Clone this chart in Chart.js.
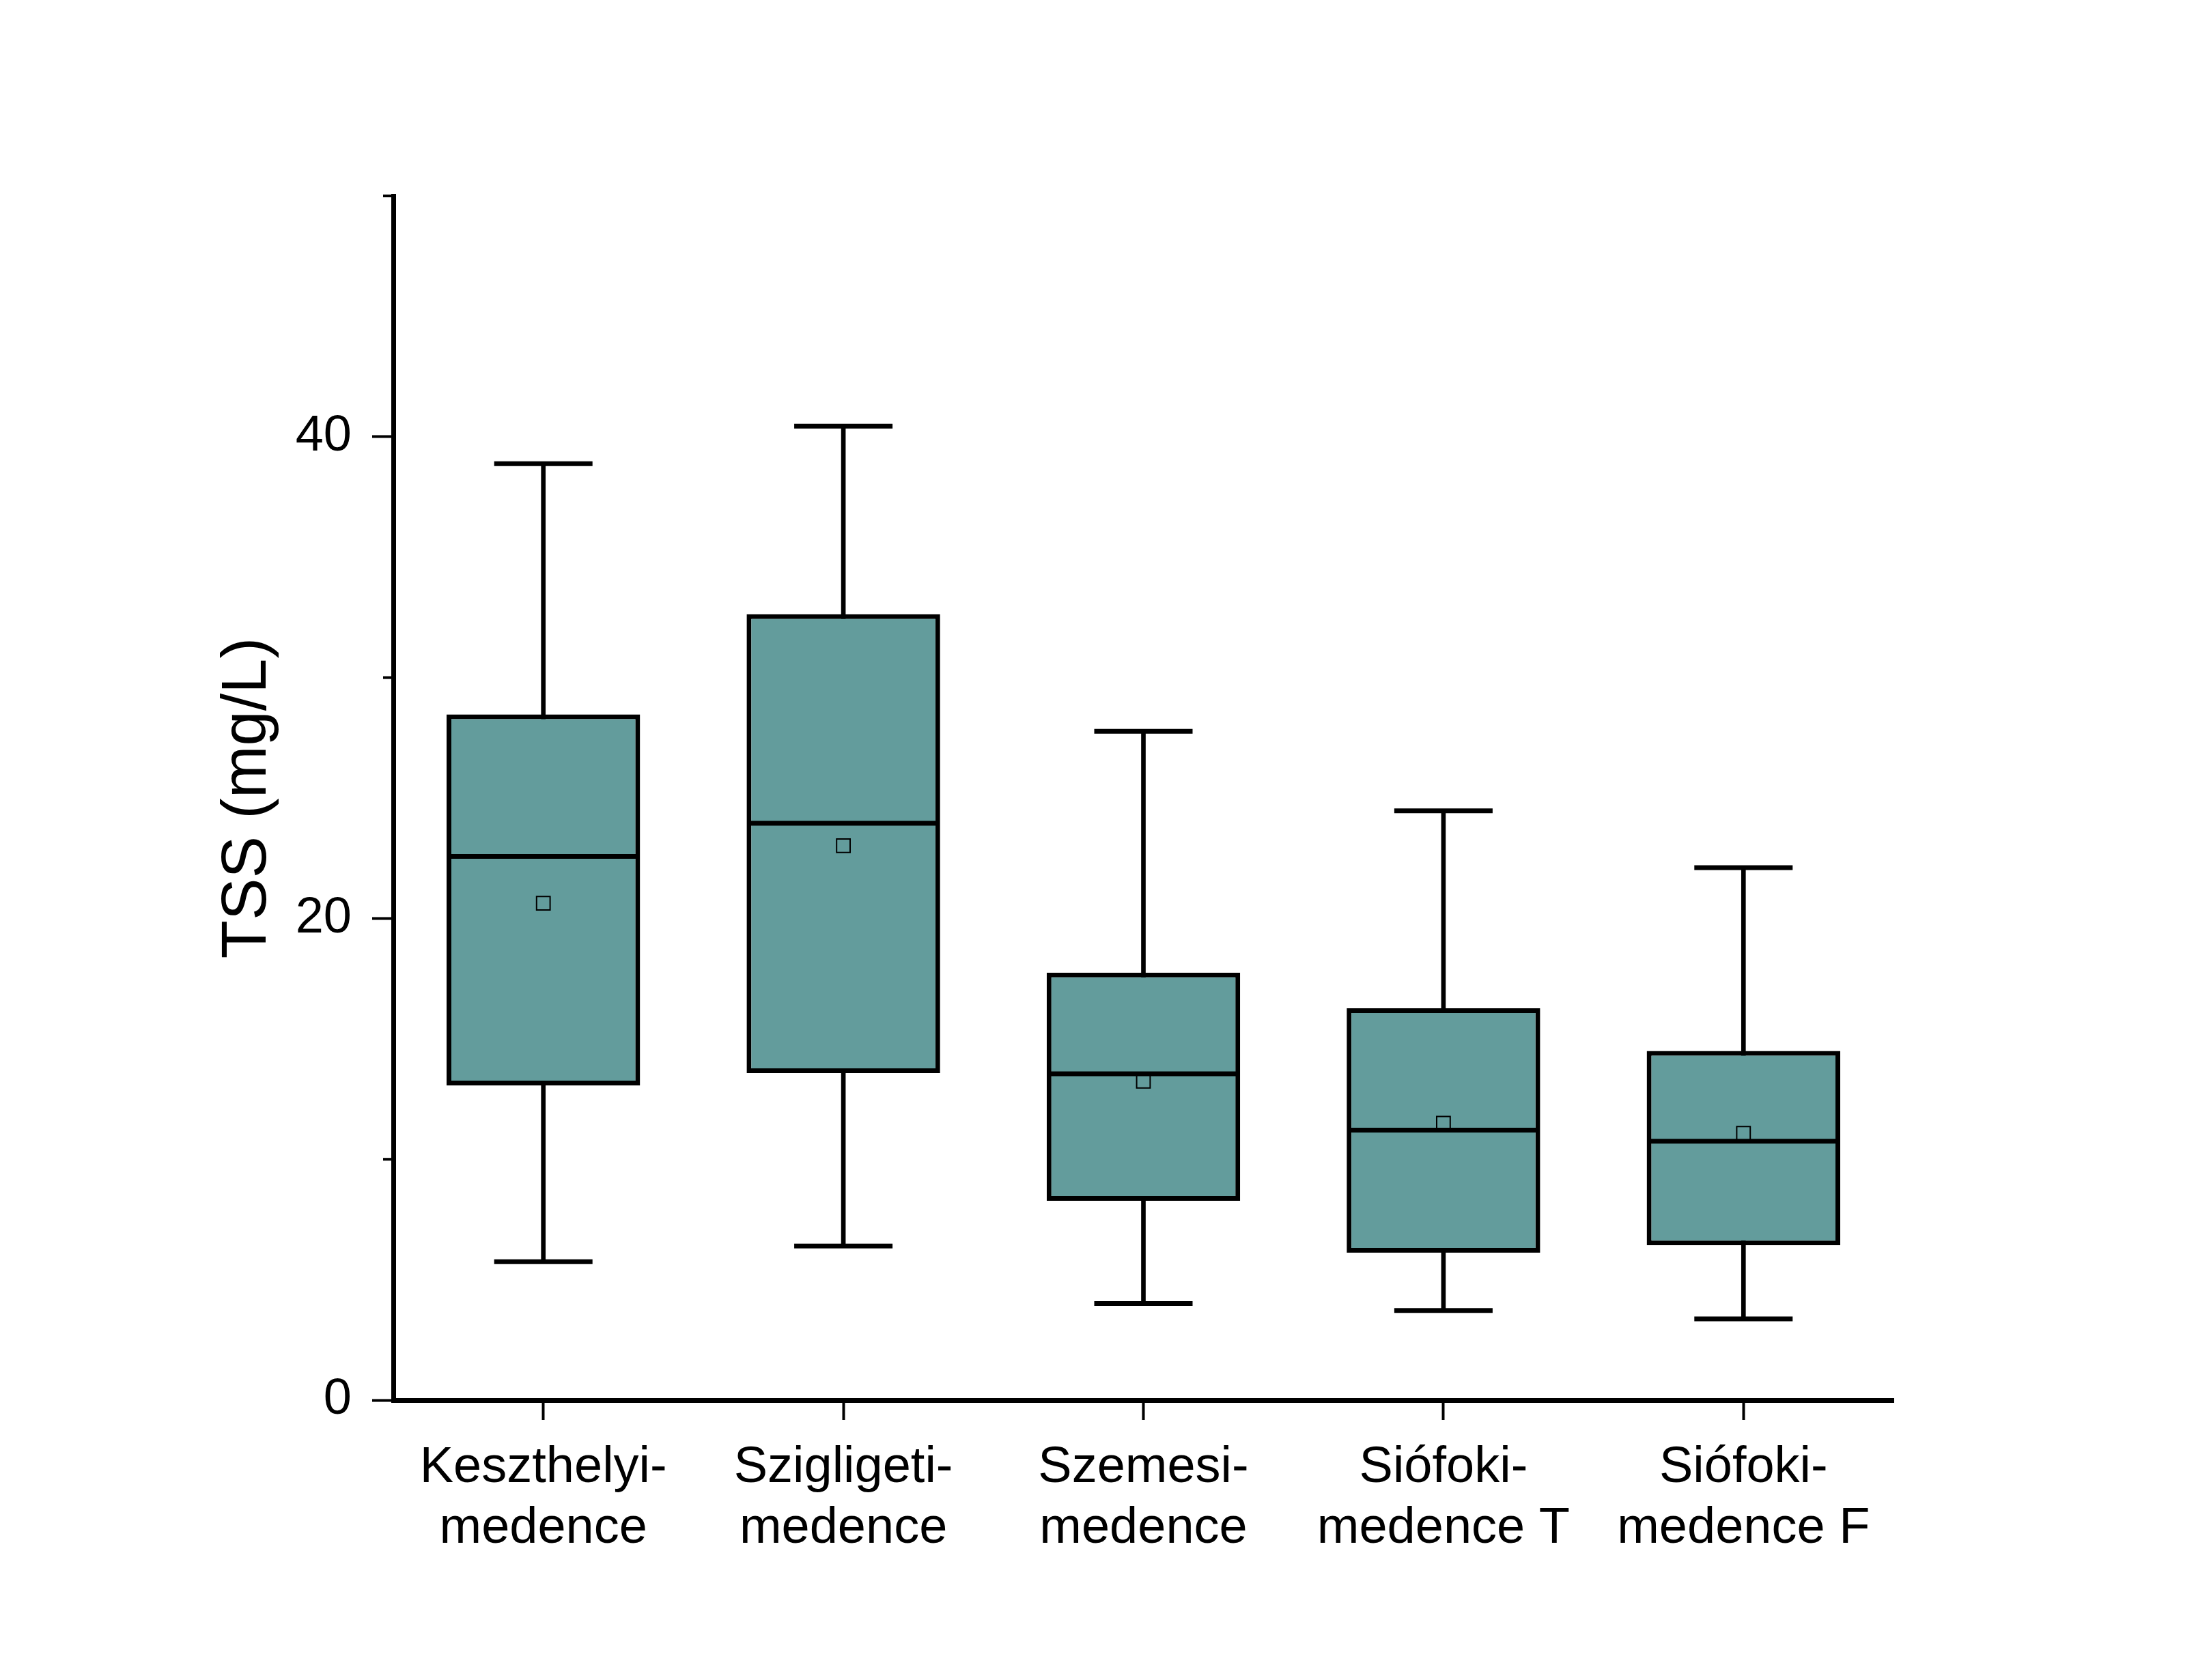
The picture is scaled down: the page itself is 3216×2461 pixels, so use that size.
<!DOCTYPE html>
<html>
<head>
<meta charset="utf-8">
<title>TSS boxplot</title>
<script src="https://cdn.jsdelivr.net/npm/chart.js@4/dist/chart.umd.min.js"></script>
<style>
  html, body { margin: 0; padding: 0; background: #fff; }
  canvas { display: block; }
</style>
</head>
<body>
<canvas id="tss-chart" width="3216" height="2461"></canvas>
<script>
// ---- data (mg/L) ----
const basins = [
  ['Keszthelyi-', 'medence'],
  ['Szigligeti-', 'medence'],
  ['Szemesi-', 'medence'],
  ['Siófoki-', 'medence T'],
  ['Siófoki-', 'medence F'],
];
const whiskerLow  = [5.75, 6.40, 4.01, 3.72, 3.37];
const q1          = [13.07, 13.58, 8.28, 6.12, 6.43];
const median      = [22.58, 23.95, 13.55, 11.21, 10.75];
const mean        = [20.63, 23.02, 13.24, 11.50, 11.08];
const q3          = [28.47, 32.63, 17.75, 16.27, 14.50];
const whiskerHigh = [38.88, 40.44, 27.77, 24.47, 22.11];

const yMajorTicks = [0, 20, 40];
const yMinorTicks = [10, 30, 50];

const BOX_FILL = '#639c9c';
const FONT = "'Liberation Sans', Arial, sans-serif";

Chart.defaults.color = '#000';
Chart.defaults.font.family = FONT;

// short minor ticks on the y axis (Chart.js only has one tick length per axis)
const minorTicksPlugin = {
  id: 'minorTicks',
  afterDraw(chart) {
    const y = chart.scales.y;
    const ctx = chart.ctx;
    ctx.save();
    ctx.strokeStyle = '#000';
    ctx.lineWidth = 4;
    yMinorTicks.forEach(v => {
      const py = y.getPixelForValue(v);
      ctx.beginPath();
      ctx.moveTo(y.right - 15, py);
      ctx.lineTo(y.right, py);
      ctx.stroke();
    });
    ctx.restore();
  }
};

const pointOnly = {
  type: 'line',
  showLine: false,
  pointBorderColor: '#000',
  pointBackgroundColor: 'rgba(0,0,0,0)',
  pointHoverRadius: 0,
};

new Chart(document.getElementById('tss-chart'), {
  type: 'bar',
  data: {
    labels: basins,
    datasets: [
      { // whisker stem, behind the box
        label: 'range',
        data: basins.map((_, i) => [whiskerLow[i], whiskerHigh[i]]),
        backgroundColor: '#000',
        barThickness: 6,
        grouped: false,
        order: 5,
      },
      {
        label: 'IQR',
        data: basins.map((_, i) => [q1[i], q3[i]]),
        backgroundColor: BOX_FILL,
        borderColor: '#000',
        borderWidth: 7,
        borderSkipped: false,
        barPercentage: 0.645,
        categoryPercentage: 1,
        grouped: false,
        order: 4,
      },
      { ...pointOnly, label: 'cap low',  data: whiskerLow,  pointStyle: 'line', pointRadius: 72,  pointBorderWidth: 7, order: 3 },
      { ...pointOnly, label: 'cap high', data: whiskerHigh, pointStyle: 'line', pointRadius: 72,  pointBorderWidth: 7, order: 3 },
      { ...pointOnly, label: 'median',   data: median,      pointStyle: 'line', pointRadius: 139, pointBorderWidth: 7, order: 2 },
      { ...pointOnly, label: 'mean',     data: mean,        pointStyle: 'rect', pointRadius: 14,  pointBorderWidth: 2, order: 1 },
    ]
  },
  options: {
    responsive: false,
    animation: false,
    events: [],
    layout: { padding: { top: 287, right: 443, left: 0, bottom: 0 } },
    plugins: {
      legend: { display: false },
      tooltip: { enabled: false },
    },
    scales: {
      x: {
        offset: true,
        grid: { display: true, drawOnChartArea: false, offset: false, tickLength: 29, tickWidth: 4, tickColor: '#000' },
        border: { display: true, color: '#000', width: 7 },
        ticks: { color: '#000', padding: 26, font: { size: 74, family: FONT }, maxRotation: 0, autoSkip: false },
        afterFit: s => { s.height = 410; },
      },
      y: {
        min: 0,
        max: 50,
        afterBuildTicks: s => { s.ticks = yMajorTicks.map(v => ({ value: v })); },
        grid: { display: true, drawOnChartArea: false, tickLength: 31, tickWidth: 4, tickColor: '#000' },
        border: { display: true, color: '#000', width: 7 },
        ticks: { color: '#000', padding: 30, font: { size: 74, family: FONT } },
        title: {
          display: true,
          text: 'TSS (mg/L)',
          color: '#000',
          font: { size: 92, family: FONT },
          padding: { top: 308, bottom: 0 },
        },
        afterFit: s => { s.width = 576; },
      }
    }
  },
  plugins: [minorTicksPlugin]
});
</script>
</body>
</html>
